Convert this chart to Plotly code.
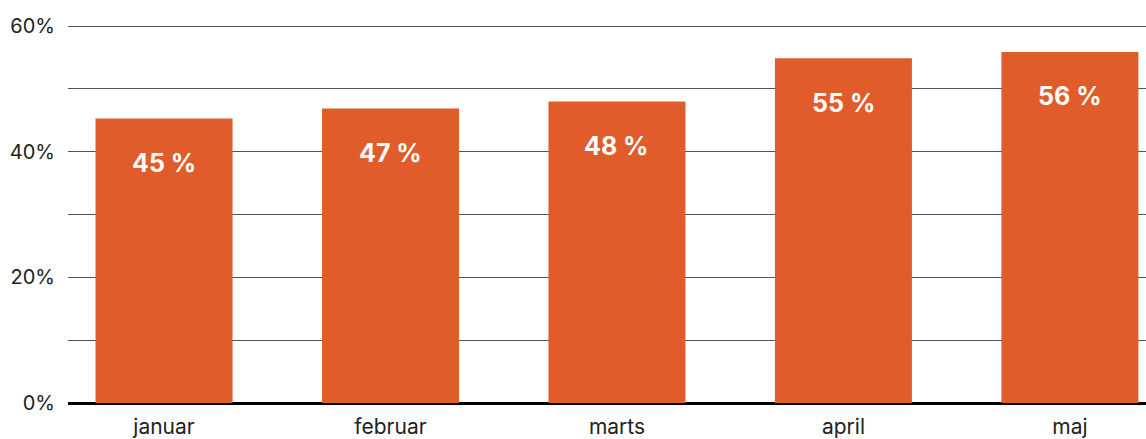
import plotly.graph_objects as go

months = ["januar", "februar", "marts", "april", "maj"]
values = [45.3, 46.9, 48.0, 54.9, 55.9]
labels = ["45 %", "47 %", "48 %", "55 %", "56 %"]
ytick_vals = [0, 10, 20, 30, 40, 50, 60]
ytick_text = ["0%", "", "20%", "", "40%", "", "60%"]

BAR = "#E05C2B"
FONT = "Inter, 'DejaVu Sans', sans-serif"

fig = go.Figure()
fig.add_trace(go.Bar(x=months, y=values, marker=dict(color=BAR, line=dict(width=0)),
                     width=0.605, hoverinfo="skip"))

for m, v, t in zip(months, values, labels):
    fig.add_annotation(x=m, y=v - 7.1, text=t, showarrow=False,
                       font=dict(family=FONT, size=25, color="white", weight="bold"),
                       xref="x", yref="y")

fig.update_layout(
    width=1146, height=439,
    margin=dict(l=68, r=0, t=23, b=34),
    paper_bgcolor="white", plot_bgcolor="white",
    showlegend=False,
    font=dict(family=FONT, size=20, color="#222222"),
    xaxis=dict(range=[-0.424, 4.336], showgrid=False, showline=False, ticks="",
               ticklabelstandoff=9,
               tickfont=dict(size=21, color="#222222"), fixedrange=True),
    yaxis=dict(range=[0, 60.5], tickvals=ytick_vals, ticktext=ytick_text,
               showgrid=True, gridcolor="#555555", gridwidth=1,
               zeroline=True, zerolinecolor="#000000", zerolinewidth=3,
               showline=False, ticks="", ticklabelstandoff=12,
               tickfont=dict(size=20, color="#222222"), fixedrange=True),
)

fig.write_html("out.html", config={"displayModeBar": False},
               post_script="document.body.style.margin='0';")
